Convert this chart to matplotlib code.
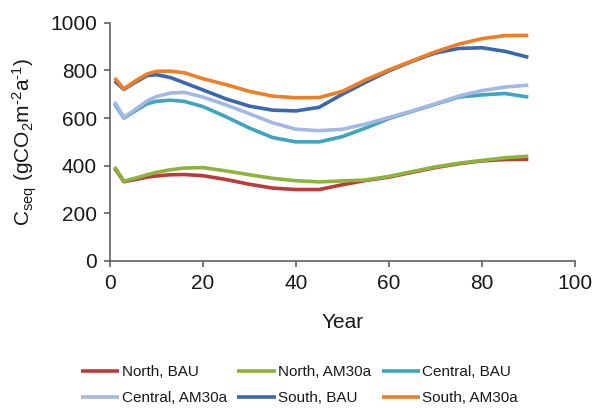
import matplotlib
matplotlib.use('Agg')
from matplotlib import pyplot as plt

plt.rcParams['font.family'] = ['Liberation Sans', 'DejaVu Sans']
plt.rcParams['mathtext.fontset'] = 'custom'
plt.rcParams['mathtext.rm'] = 'Liberation Sans'
plt.rcParams['mathtext.it'] = 'Liberation Sans'

# data
years = [1, 3, 5, 8, 10, 13, 16, 20, 25, 30, 35, 40, 45, 50, 55, 60, 65, 70, 75, 80, 85, 90]

north_bau = [390, 333, 340, 352, 357, 362, 363, 358, 342, 322, 306, 300, 300, 320, 338, 352, 372, 392, 408, 420, 426, 427]
north_am30a = [395, 335, 345, 362, 372, 383, 390, 392, 378, 362, 347, 337, 332, 336, 340, 355, 375, 395, 410, 422, 433, 440]
central_bau = [660, 600, 625, 660, 670, 675, 670, 648, 605, 558, 518, 500, 500, 522, 558, 598, 628, 658, 688, 697, 703, 688]
central_am30a = [668, 603, 630, 672, 690, 705, 708, 688, 655, 618, 580, 553, 547, 553, 575, 602, 630, 660, 692, 715, 730, 738]
south_bau = [755, 720, 745, 778, 782, 770, 748, 718, 680, 650, 633, 630, 645, 700, 750, 798, 838, 873, 892, 895, 880, 855]
south_am30a = [768, 722, 750, 785, 796, 797, 790, 765, 740, 712, 692, 685, 686, 712, 760, 802, 840, 878, 910, 933, 946, 947]

series = [
    ('North, BAU', north_bau, '#BE3A3A'),
    ('North, AM30a', north_am30a, '#8DB33A'),
    ('Central, BAU', central_bau, '#3FA5BE'),
    ('Central, AM30a', central_am30a, '#A3B8E3'),
    ('South, BAU', south_bau, '#3A68B0'),
    ('South, AM30a', south_am30a, '#EE7F26'),
]

text_color = '#1a1a1a'
axis_color = '#606060'

fig = plt.figure(figsize=(5.99, 4.08), dpi=100)
ax = fig.add_axes([0.1836, 0.3603, 0.776, 0.584])

lines = {}
for label, vals, color in series:
    ln, = ax.plot(years, vals, color=color, lw=2.6, label=label, solid_capstyle='butt')
    lines[label] = ln

ax.set_xlim(0, 100)
ax.set_ylim(0, 1000)
ax.set_xticks(range(0, 101, 20))
ax.set_yticks(range(0, 1001, 200))

for side in ['top', 'right']:
    ax.spines[side].set_visible(False)
for side in ['left', 'bottom']:
    ax.spines[side].set_color(axis_color)
    ax.spines[side].set_linewidth(1.2)

ax.tick_params(axis='both', direction='out', length=4.5, width=1.2, color=axis_color,
               labelsize=15, labelcolor=text_color, pad=5)

ax.set_xlabel('Year', fontsize=15, color=text_color, labelpad=14)
ax.set_ylabel(r'C$_{\rm seq}$ (gCO$_2$m$^{\text{-2}}$a$^{\text{-1}}$)', fontsize=15,
              color=text_color, labelpad=8)

# legend rows: matplotlib fills columns first, so reorder
order = ['North, BAU', 'Central, AM30a', 'North, AM30a', 'South, BAU', 'Central, BAU', 'South, AM30a']
leg = fig.legend([lines[k] for k in order], order, ncol=3, loc='center',
                 bbox_to_anchor=(0.5, 0.056), frameon=False, fontsize=11,
                 handlelength=2.5, handletextpad=0.15, columnspacing=0.7,
                 labelspacing=0.8)
for t in leg.get_texts():
    t.set_color(text_color)

fig.savefig('out.png', dpi=100)
